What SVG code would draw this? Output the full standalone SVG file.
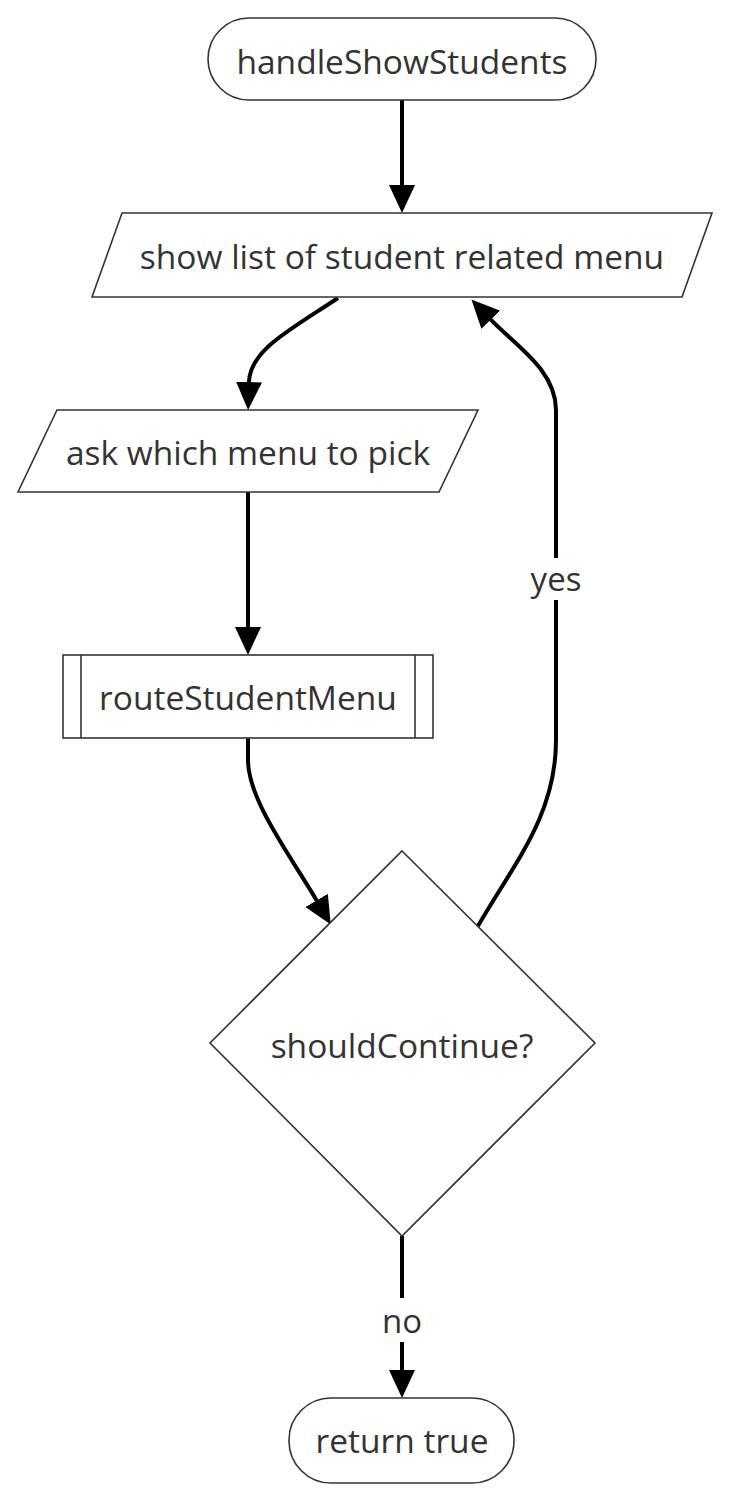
<svg xmlns="http://www.w3.org/2000/svg" width="730" height="1500" viewBox="0 0 730 1500">
<style>
.node{fill:#fff;stroke:#333;stroke-width:1.6}
.lbl{font-family:"Open Sans","Noto Sans","DejaVu Sans",sans-serif;font-size:33.5px;fill:#333;text-anchor:middle;dominant-baseline:central}
.edge{fill:none;stroke:#000;stroke-width:4}
.elbl{font-family:"Open Sans","Noto Sans","DejaVu Sans",sans-serif;font-size:33px;fill:#333;text-anchor:middle;dominant-baseline:central}
</style>
<defs>
<marker id="arr" markerUnits="userSpaceOnUse" markerWidth="30" markerHeight="28" refX="0" refY="13" orient="auto">
<path d="M0,0 L28,13 L0,26 z" fill="#000"/>
</marker>
</defs>
<rect width="730" height="1500" fill="#fff"/>
<g id="connectors">
<path class="edge" d="M402,100 L402,185" marker-end="url(#arr)"/>
<path class="edge" d="M338,298 C290,330 250,350 249,382" marker-end="url(#arr)"/>
<path class="edge" d="M248,492 L248,627" marker-end="url(#arr)"/>
<path class="edge" d="M248,738 L248,760 C248,800 290,855 316.6,900.4" marker-end="url(#arr)"/>
<path class="edge" d="M478,926 C515,862 556,815 556,740 L556,410 C556,370 515,345 490.8,319.7" marker-end="url(#arr)"/>
<path class="edge" d="M402,1236 L402,1370" marker-end="url(#arr)"/>
<rect x="524" y="558" width="64" height="42" fill="#fff"/>
<text class="elbl" x="556" y="578">yes</text>
<rect x="378" y="1298" width="48" height="44" fill="#fff"/>
<text class="elbl" x="402" y="1320">no</text>
</g>
<g id="start">
<rect class="node" x="208" y="18" width="388" height="82" rx="41" ry="41"/>
<text class="lbl" x="402" y="61">handleShowStudents</text>
</g>
<g id="showList">
<polygon class="node" points="122,213 712,213 682,297 92,297"/>
<text class="lbl" x="402" y="256">show list of student related menu</text>
</g>
<g id="askMenu">
<polygon class="node" points="57,410 478,410 439,492 18,492"/>
<text class="lbl" x="248" y="452">ask which menu to pick</text>
</g>
<g id="routeStudentMenu">
<rect class="node" x="63" y="655" width="370" height="83"/>
<line class="node" x1="81" y1="655" x2="81" y2="738"/>
<line class="node" x1="415" y1="655" x2="415" y2="738"/>
<text class="lbl" x="248" y="697">routeStudentMenu</text>
</g>
<g id="shouldContinue">
<polygon class="node" points="402,851 595,1043 402,1236 210,1043"/>
<text class="lbl" x="402" y="1045">shouldContinue?</text>
</g>
<g id="end">
<rect class="node" x="289" y="1398" width="225" height="85" rx="42" ry="42"/>
<text class="lbl" x="402" y="1440">return true</text>
</g>
</svg>
